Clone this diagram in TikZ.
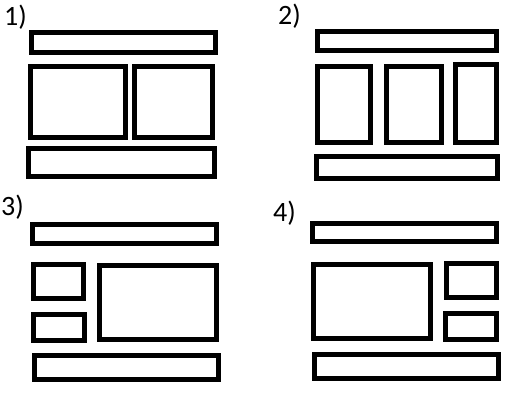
\documentclass[tikz,border=0pt]{standalone}
\usepackage{fontspec}
\setmainfont{Carlito}
\usepackage{tikz}

\begin{document}
\begin{tikzpicture}[
    x=1pt, y=-1pt,
    panel/.style={draw=black, line width=5pt, fill=white},
    numlabel/.style={font=\fontsize{28}{30}\selectfont, text=black, anchor=base west, inner sep=0pt}
]
    \useasboundingbox (0,0) rectangle (517,401);

    % Layout 1: header, two columns, footer
    \node[numlabel] (lbl1) at (4,26) {1)};
    \draw[panel] (31.5,32.5) rectangle (215.5,52.5);
    \draw[panel] (30.8,66.8) rectangle (125.2,137.2);
    \draw[panel] (134.8,66.8) rectangle (212.2,137.2);
    \draw[panel] (28.5,148.5) rectangle (214.2,176.2);

    % Layout 2: header, three columns, footer
    \node[numlabel] (lbl2) at (278,25) {2)};
    \draw[panel] (317.2,31.8) rectangle (496.2,50.2);
    \draw[panel] (317.8,66.5) rectangle (370.5,142.5);
    \draw[panel] (386.5,66.5) rectangle (441.2,142.5);
    \draw[panel] (455.2,64.8) rectangle (496.2,142.5);
    \draw[panel] (316.5,156.5) rectangle (497.2,178.2);

    % Layout 3: header, two small left + big right, footer
    \node[numlabel] (lbl3) at (1,215) {3)};
    \draw[panel] (32.5,224.8) rectangle (216.2,243.2);
    \draw[panel] (33.5,264.2) rectangle (83.5,298.2);
    \draw[panel] (33.5,314.5) rectangle (84.5,340.5);
    \draw[panel] (99.5,265.2) rectangle (216.2,339.2);
    \draw[panel] (34.5,355.5) rectangle (218.5,379.5);

    % Layout 4: header, big left + two small right, footer
    \node[numlabel] (lbl4) at (273,221) {4)};
    \draw[panel] (312.5,223.8) rectangle (496.2,241.8);
    \draw[panel] (313.5,264.2) rectangle (430.2,338.2);
    \draw[panel] (446.2,263.2) rectangle (496.2,297.2);
    \draw[panel] (445.2,313.2) rectangle (496.2,339.2);
    \draw[panel] (314.5,354.2) rectangle (498.2,378.2);

\end{tikzpicture}
\end{document}
